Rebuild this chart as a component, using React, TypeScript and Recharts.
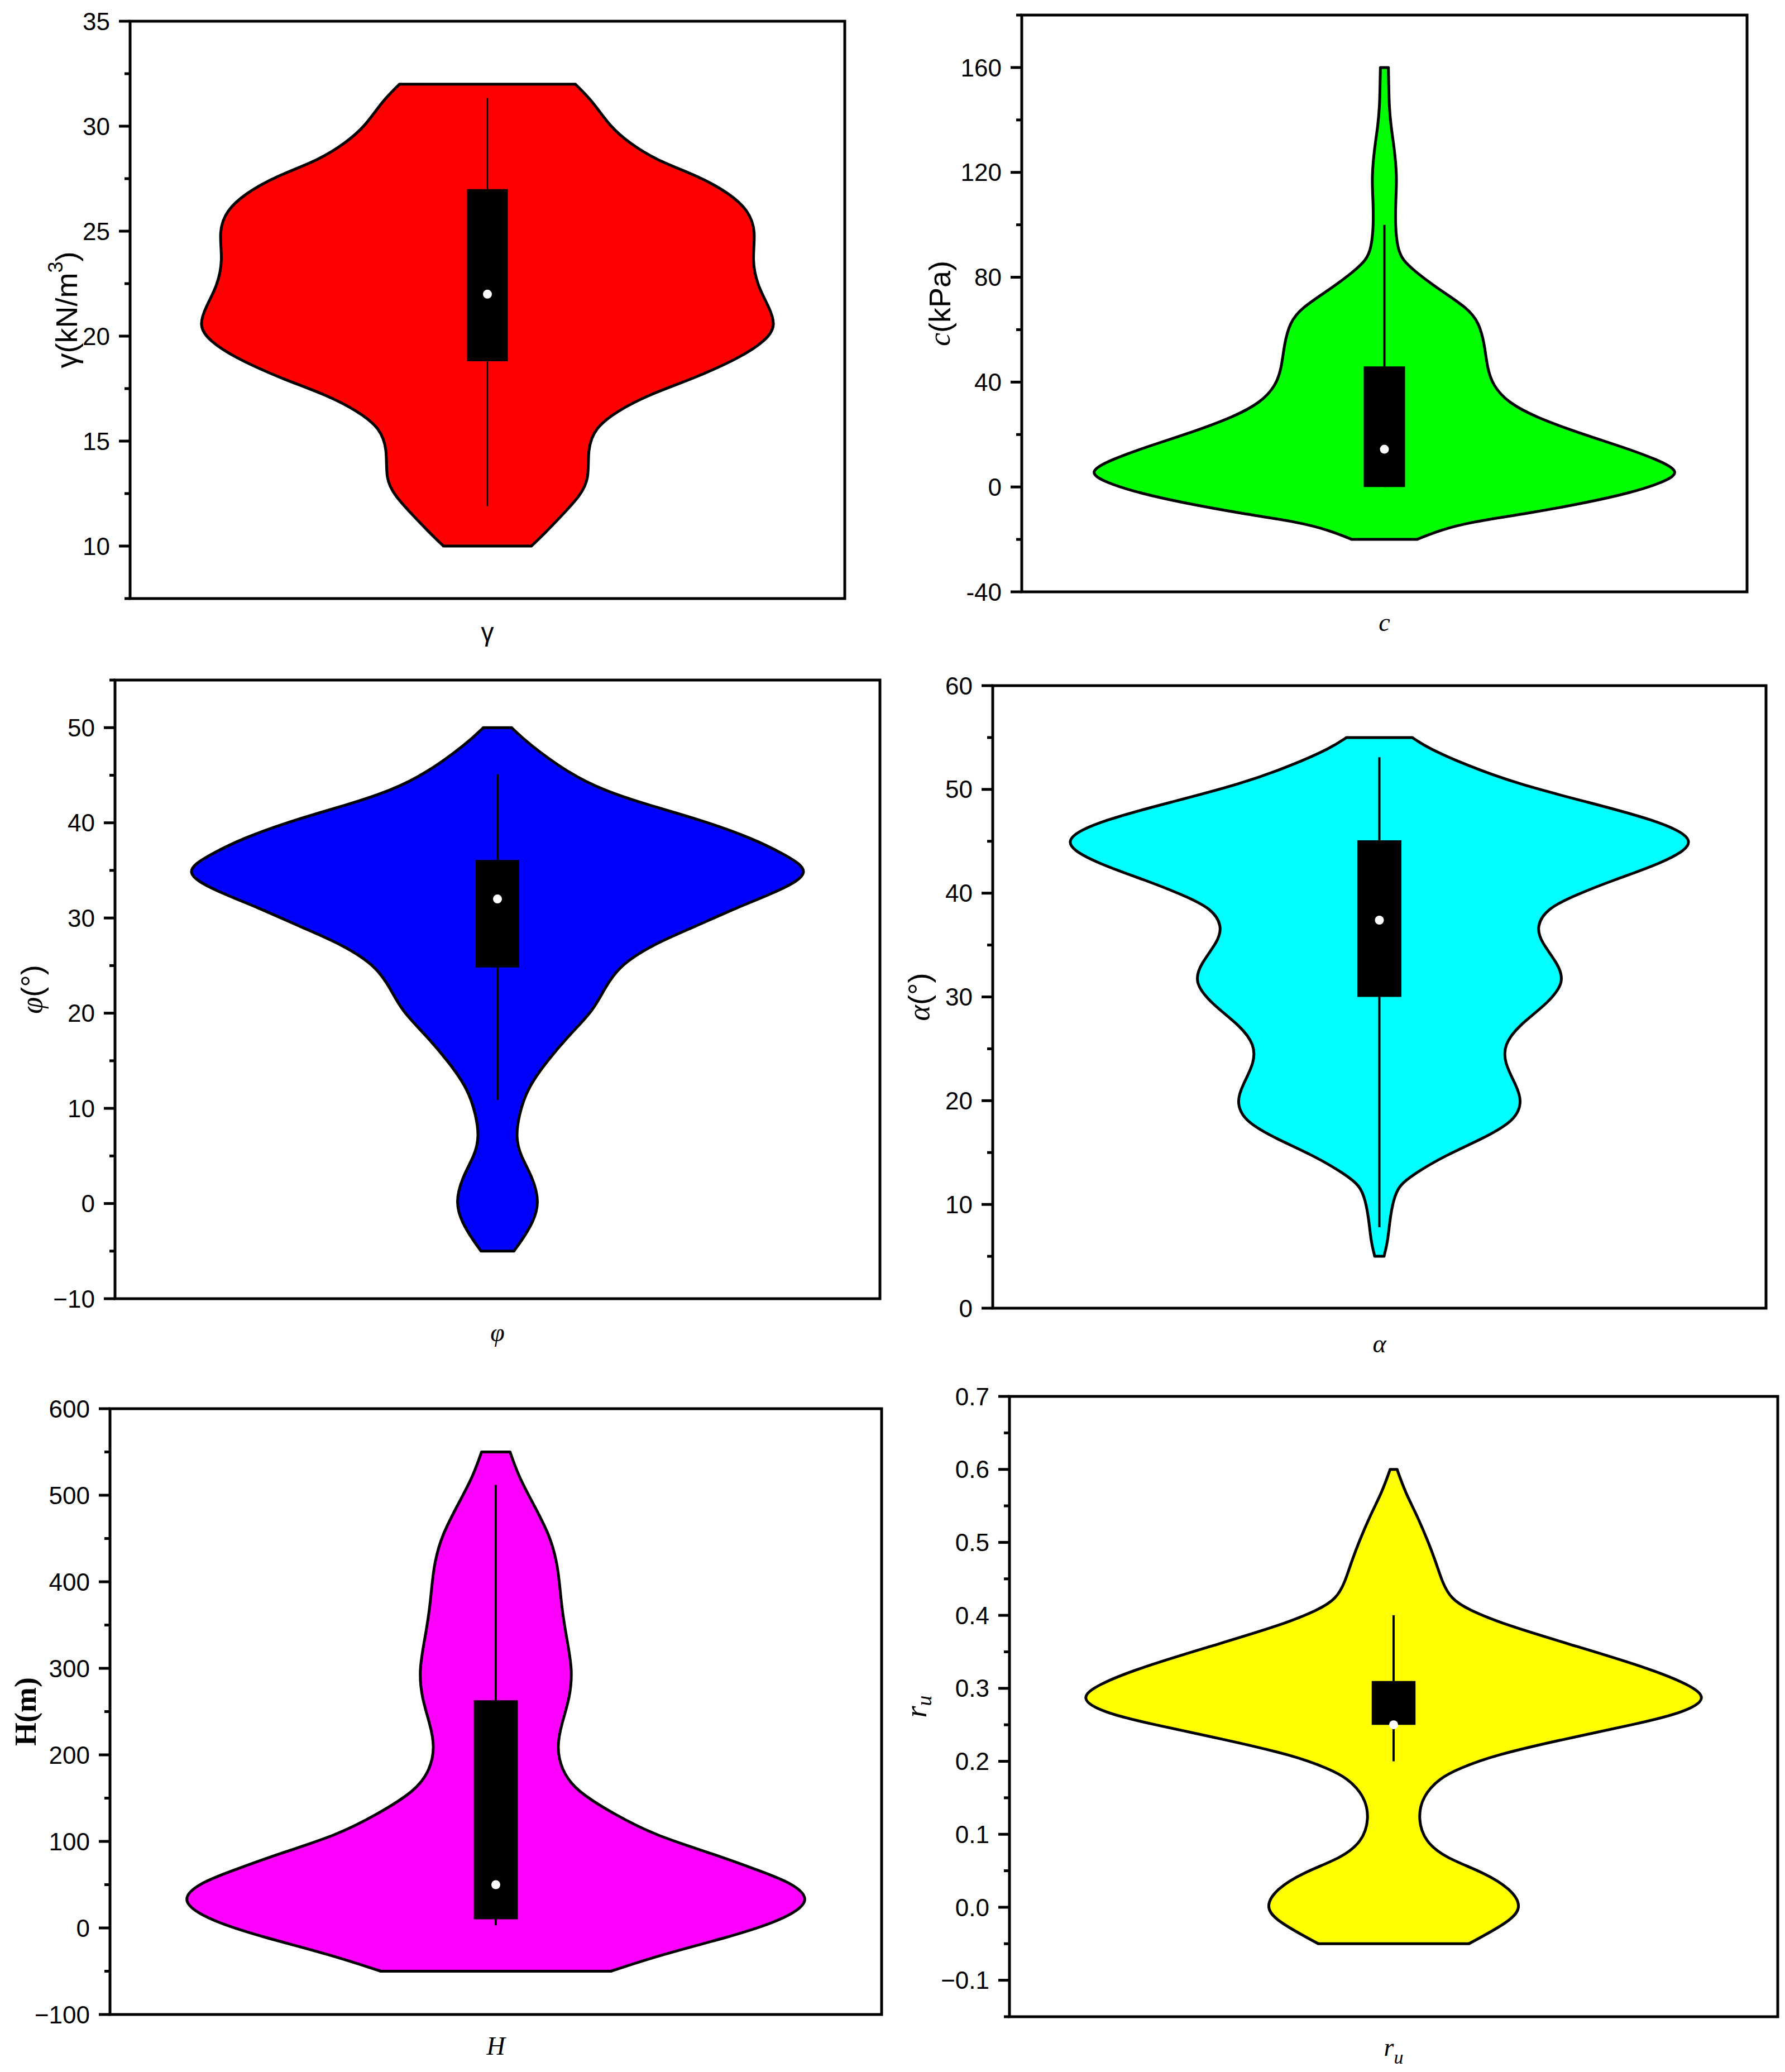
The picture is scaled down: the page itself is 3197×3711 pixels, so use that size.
import React from "react";
import {
  ComposedChart,
  Area,
  XAxis,
  YAxis,
  ReferenceArea,
  ReferenceLine,
  ReferenceDot,
} from "recharts";

const SANS = '"Liberation Sans", Arial, sans-serif';
const SERIF = '"Liberation Serif", "Times New Roman", serif';

// violin outlines: value along the axis, half width as a share of the plot half width
const gammaValues = [10, 10.6, 11.4, 12.4, 13.2, 14.6, 15.6, 16.4, 17.2, 18, 19, 19.8, 20.5, 21.4, 22.4, 23.6, 25, 26, 26.8, 27.6, 28.4, 29.2, 30, 31.2, 32];
const gammaWidths = [0.123, 0.16, 0.205, 0.26, 0.285, 0.28, 0.3, 0.36, 0.45, 0.58, 0.71, 0.78, 0.808, 0.788, 0.756, 0.74, 0.752, 0.73, 0.677, 0.594, 0.47, 0.397, 0.342, 0.294, 0.246];
const gammaStats = [11.9, 18.8, 22.0, 27.0, 31.35]; // whisker low, q1, median, q3, whisker high
const gammaTicks = [10, 15, 20, 25, 30, 35];
const gammaMinor = [7.5, 12.5, 17.5, 22.5, 27.5, 32.5];

const cValues = [-20, -16.6, -13.4, -10.2, -6.2, -2.2, 1.8, 5.8, 10.6, 15.4, 21, 26.6, 32.2, 38.6, 45, 54.6, 62.6, 68.2, 75.4, 81.8, 86.6, 91.4, 99.4, 109, 118.4, 129.6, 137.6, 145.6, 153.6, 160];
const cWidths = [0.09, 0.15, 0.236, 0.39, 0.55, 0.68, 0.77, 0.82, 0.75, 0.654, 0.528, 0.418, 0.341, 0.3, 0.284, 0.276, 0.261, 0.23, 0.15, 0.088, 0.049, 0.036, 0.03, 0.031, 0.035, 0.027, 0.018, 0.013, 0.012, 0.011];
const cStats = [0, 0, 14.4, 46, 100];
const cTicks = [-40, 0, 40, 80, 120, 160];
const cMinor = [-20, 20, 60, 100, 140, 180];

const phiValues = [-5, -3.9, -2, 0.1, 2.7, 5.1, 7, 9.3, 12.1, 15, 17.8, 20.2, 22.5, 24.9, 27.2, 29.1, 31, 32.9, 34.8, 36.6, 38.4, 40.3, 42, 43.4, 45.1, 48.4, 50];
const phiWidths = [0.043, 0.063, 0.093, 0.11, 0.093, 0.059, 0.048, 0.056, 0.078, 0.13, 0.19, 0.249, 0.279, 0.316, 0.405, 0.517, 0.62, 0.74, 0.826, 0.755, 0.665, 0.532, 0.383, 0.279, 0.19, 0.078, 0.037];
const phiStats = [10.9, 24.8, 32.0, 36.1, 45.1];
const phiTicks = [-10, 0, 10, 20, 30, 40, 50];
const phiMinor = [-5, 5, 15, 25, 35, 45, 55];

const alphaValues = [5, 6.5, 8.5, 10.4, 11.8, 12.9, 14.7, 16.4, 18.1, 20, 21.6, 23.7, 25.4, 27.2, 29.3, 31.4, 33.2, 35.3, 36.8, 38.5, 39.8, 41.3, 42.8, 45, 47.1, 48.8, 50.5, 52.3, 54, 55];
const alphaWidths = [0.012, 0.022, 0.027, 0.036, 0.05, 0.088, 0.169, 0.271, 0.352, 0.37, 0.352, 0.323, 0.323, 0.359, 0.433, 0.48, 0.462, 0.418, 0.406, 0.433, 0.506, 0.608, 0.725, 0.84, 0.711, 0.535, 0.36, 0.227, 0.125, 0.085];
const alphaStats = [7.8, 30.0, 37.4, 45.1, 53.1];
const alphaTicks = [0, 10, 20, 30, 40, 50, 60];
const alphaMinor = [5, 15, 25, 35, 45, 55];

const hValues = [-50, -31, -10.4, 7.8, 31.3, 52, 65, 86, 107, 130.5, 159, 183, 209, 235, 266, 298, 334, 371, 418, 454, 491, 522, 550];
const hWidths = [0.298, 0.428, 0.605, 0.737, 0.824, 0.767, 0.69, 0.561, 0.413, 0.31, 0.206, 0.17, 0.158, 0.17, 0.192, 0.199, 0.184, 0.17, 0.162, 0.14, 0.096, 0.059, 0.037];
const hStats = [3, 10, 50, 263, 512];
const hTicks = [-100, 0, 100, 200, 300, 400, 500, 600];
const hMinor = [-50, 50, 150, 250, 350, 450, 550];

const ruValues = [-0.05, -0.019, 0.001, 0.025, 0.047, 0.068, 0.09, 0.121, 0.152, 0.177, 0.19, 0.208, 0.23, 0.252, 0.267, 0.286, 0.305, 0.327, 0.358, 0.386, 0.408, 0.423, 0.445, 0.47, 0.501, 0.538, 0.569, 0.6];
const ruWidths = [0.196, 0.305, 0.335, 0.305, 0.238, 0.134, 0.082, 0.063, 0.075, 0.12, 0.17, 0.26, 0.44, 0.64, 0.756, 0.82, 0.77, 0.667, 0.474, 0.296, 0.193, 0.149, 0.127, 0.112, 0.09, 0.06, 0.03, 0.009];
const ruStats = [0.2, 0.25, 0.25, 0.31, 0.4];
const ruTicks = [-0.1, 0, 0.1, 0.2, 0.3, 0.4, 0.5, 0.6, 0.7];
const ruMinor = [-0.15, -0.05, 0.05, 0.15, 0.25, 0.35, 0.45, 0.55, 0.65];

const plain = (v: number) => String(v);
const minus = (v: number) => (v < 0 ? "\u2212" + Math.abs(v) : String(v));
const minusFixed = (v: number) => (v < 0 ? "\u2212" : "") + Math.abs(v).toFixed(1);

const PAD_L = 220;
const PAD_T = 30;
const PAD_R = 30;
const PAD_B = 130;
const BOX_HALF = 0.057;

type PanelProps = {
  left: number;
  top: number;
  w: number;
  h: number;
  domain: [number, number];
  major: number[];
  minor: number[];
  fmt: (v: number) => string;
  values: number[];
  widths: number[];
  stats: number[];
  color: string;
  yLabel: React.ReactNode;
  yLabelFont: string;
  yLabelWeight?: string;
  yLabelGap: number;
  xLabel: React.ReactNode;
  xLabelFont: string;
  xLabelGap: number;
  whisker: number;
};

function ViolinPanel(p: PanelProps) {
  const data = p.values.map((v, i) => ({ v, r: [-p.widths[i], p.widths[i]] }));
  const ticks = [...p.major, ...p.minor].sort((a, b) => a - b);
  const [lo, q1, med, q3, hi] = p.stats;
  const n = p.values.length;

  const renderTick = (t: any) => {
    const { x, y, payload } = t;
    const v = payload.value;
    const isMajor = p.major.some((m) => Math.abs(m - v) < 1e-9);
    return (
      <g>
        <line x1={x - (isMajor ? 20 : 10)} x2={x} y1={y} y2={y} stroke="#000" strokeWidth={5} />
        {isMajor && (
          <text x={x - 36} y={y} dy="0.355em" textAnchor="end" fontFamily={SANS} fontSize={44} fill="#000">
            {p.fmt(v)}
          </text>
        )}
      </g>
    );
  };

  const yLabel = () => (
    <text
      transform={`translate(${PAD_L - p.yLabelGap},${PAD_T + p.h / 2}) rotate(-90)`}
      textAnchor="middle"
      dominantBaseline="central"
      fontFamily={p.yLabelFont}
      fontWeight={p.yLabelWeight || "normal"}
      fontSize={54}
      fill="#000"
    >
      {p.yLabel}
    </text>
  );

  const xLabel = () => (
    <text
      x={PAD_L + p.w / 2}
      y={PAD_T + p.h + p.xLabelGap}
      textAnchor="middle"
      fontFamily={p.xLabelFont}
      fontSize={46}
      fill="#000"
    >
      {p.xLabel}
    </text>
  );

  return (
    <div style={{ position: "absolute", left: p.left - PAD_L, top: p.top - PAD_T }}>
      <ComposedChart
        layout="vertical"
        width={p.w + PAD_L + PAD_R}
        height={p.h + PAD_T + PAD_B}
        data={data}
        margin={{ top: PAD_T, right: PAD_R, left: 0, bottom: 0 }}
      >
        <XAxis
          type="number"
          domain={[-1, 1]}
          allowDataOverflow
          tick={false}
          axisLine={false}
          tickLine={false}
          height={PAD_B}
          label={xLabel}
        />
        <YAxis
          type="number"
          dataKey="v"
          domain={p.domain}
          allowDataOverflow
          reversed
          ticks={ticks}
          interval={0}
          tickSize={0}
          tickMargin={0}
          axisLine={false}
          tickLine={false}
          width={PAD_L}
          tick={renderTick}
          label={yLabel}
        />
        <Area
          type="basis"
          dataKey="r"
          fill={p.color}
          fillOpacity={1}
          stroke="#000"
          strokeWidth={5}
          dot={false}
          activeDot={false}
          isAnimationActive={false}
        />
        <ReferenceLine
          segment={[{ x: -p.widths[0], y: p.values[0] }, { x: p.widths[0], y: p.values[0] }]}
          stroke="#000"
          strokeWidth={5}
          strokeLinecap="round"
        />
        <ReferenceLine
          segment={[{ x: -p.widths[n - 1], y: p.values[n - 1] }, { x: p.widths[n - 1], y: p.values[n - 1] }]}
          stroke="#000"
          strokeWidth={5}
          strokeLinecap="round"
        />
        <ReferenceLine segment={[{ x: 0, y: lo }, { x: 0, y: hi }]} stroke="#000" strokeWidth={p.whisker} />
        <ReferenceArea x1={-BOX_HALF} x2={BOX_HALF} y1={q1} y2={q3} fill="#000" fillOpacity={1} stroke="none" />
        <ReferenceDot x={0} y={med} r={8} fill="#fff" stroke="none" />
        <ReferenceArea x1={-1} x2={1} y1={p.domain[0]} y2={p.domain[1]} fill="none" stroke="#000" strokeWidth={5} />
      </ComposedChart>
    </div>
  );
}

const it = (s: string) => (
  <tspan fontFamily={SERIF} fontStyle="italic">
    {s}
  </tspan>
);

export default function App() {
  return (
    <div style={{ position: "absolute", left: 0, top: 0, width: 3197, height: 3711, background: "#fff" }}>
      <ViolinPanel
        left={233} top={38} w={1280} h={1034}
        domain={[7.5, 35]} major={gammaTicks} minor={gammaMinor} fmt={plain}
        values={gammaValues} widths={gammaWidths} stats={gammaStats} color="#FF0000"
        yLabel={<>γ(kN/m<tspan dy={-20} fontSize={36}>3</tspan><tspan dy={20}>)</tspan></>}
        yLabelFont={SANS} yLabelGap={114}
        xLabel="γ" xLabelFont={SANS} xLabelGap={76}
        whisker={2.5}
      />
      <ViolinPanel
        left={1830} top={27} w={1299} h={1033}
        domain={[-40, 180]} major={cTicks} minor={cMinor} fmt={plain}
        values={cValues} widths={cWidths} stats={cStats} color="#00FF00"
        yLabel={<>{it("c")}(kPa)</>}
        yLabelFont={SANS} yLabelGap={147}
        xLabel={it("c")} xLabelFont={SERIF} xLabelGap={70}
        whisker={4}
      />
      <ViolinPanel
        left={206} top={1218} w={1370} h={1108}
        domain={[-10, 55]} major={phiTicks} minor={phiMinor} fmt={minus}
        values={phiValues} widths={phiWidths} stats={phiStats} color="#0000FF"
        yLabel={<>{it("φ")}(°)</>}
        yLabelFont={SANS} yLabelGap={149}
        xLabel={it("φ")} xLabelFont={SERIF} xLabelGap={76}
        whisker={4}
      />
      <ViolinPanel
        left={1778} top={1228} w={1385} h={1115}
        domain={[0, 60]} major={alphaTicks} minor={alphaMinor} fmt={plain}
        values={alphaValues} widths={alphaWidths} stats={alphaStats} color="#00FFFF"
        yLabel={<>{it("α")}(°)</>}
        yLabelFont={SANS} yLabelGap={132}
        xLabel={it("α")} xLabelFont={SERIF} xLabelGap={79}
        whisker={4}
      />
      <ViolinPanel
        left={197} top={2523} w={1382} h={1085}
        domain={[-100, 600]} major={hTicks} minor={hMinor} fmt={minus}
        values={hValues} widths={hWidths} stats={hStats} color="#FF00FF"
        yLabel="H(m)"
        yLabelFont={SERIF} yLabelWeight="bold" yLabelGap={151}
        xLabel={it("H")} xLabelFont={SERIF} xLabelGap={72}
        whisker={4}
      />
      <ViolinPanel
        left={1808} top={2501} w={1376} h={1111}
        domain={[-0.15, 0.7]} major={ruTicks} minor={ruMinor} fmt={minusFixed}
        values={ruValues} widths={ruWidths} stats={ruStats} color="#FFFF00"
        yLabel={<>{it("r")}<tspan fontFamily={SERIF} fontStyle="italic" fontSize={38} dy={14}>u</tspan></>}
        yLabelFont={SERIF} yLabelGap={167}
        xLabel={<>{it("r")}<tspan fontFamily={SERIF} fontStyle="italic" fontSize={34} dy={14}>u</tspan></>}
        xLabelFont={SERIF} xLabelGap={70}
        whisker={4}
      />
    </div>
  );
}
